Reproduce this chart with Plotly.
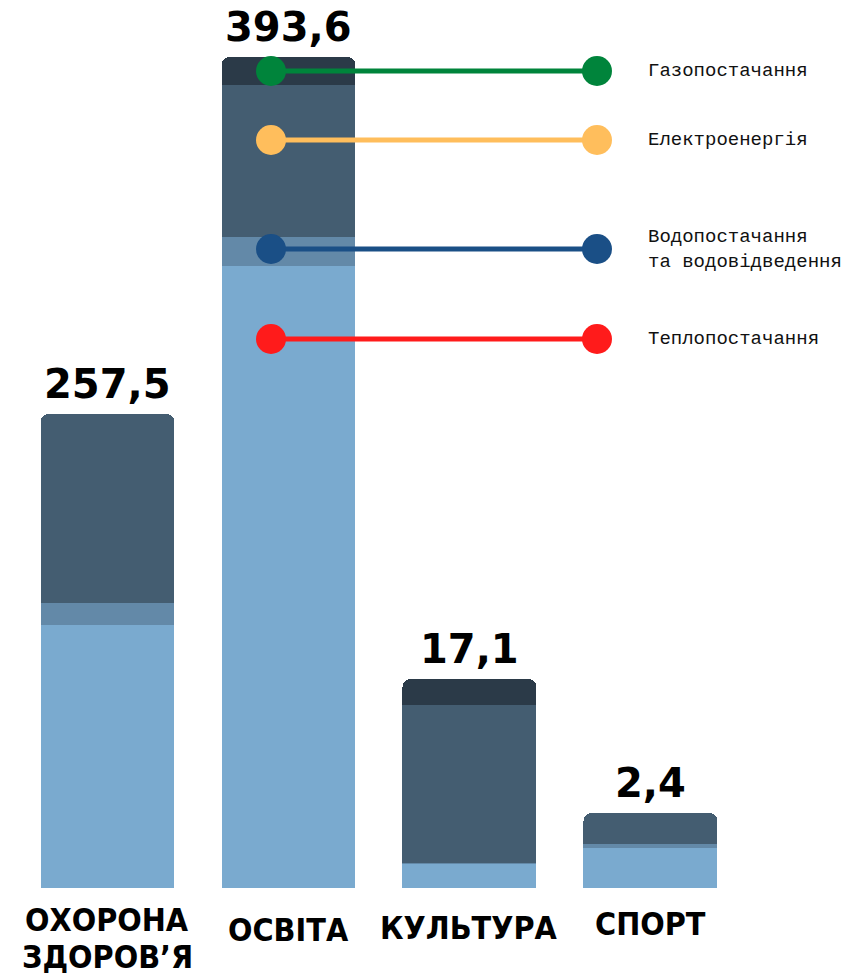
import plotly.graph_objects as go

# ---- data ----
categories = ["ОХОРОНА\nЗДОРОВ’Я", "ОСВІТА", "КУЛЬТУРА", "СПОРТ"]
totals_label = ["257,5", "393,6", "17,1", "2,4"]
# segment heights as drawn in the infographic (display units, not to scale with totals)
heat_h = [263, 622, 24, 40]      # Теплопостачання
water_h = [22, 29, 1, 4]         # Водопостачання та водовідведення
elec_h = [189, 152, 158, 31]     # Електроенергія
gas_h = [0, 28, 26, 0]           # Газопостачання

legend_names = ["Газопостачання", "Електроенергія", "Водопостачання<br>та водовідведення", "Теплопостачання"]
legend_colors = ["#00843B", "#FFBE5C", "#1A4F86", "#FF1B1B"]
legend_rows = [71, 140, 249, 339]   # layout rows (px from top)

seg_colors = ["#7AAACF", "#6389A8", "#445D71", "#2B3A48"]

fig = go.Figure()
for vals, col, name in zip([heat_h, water_h, elec_h, gas_h], seg_colors,
                           ["Теплопостачання", "Водопостачання", "Електроенергія", "Газопостачання"]):
    fig.add_trace(go.Bar(x=categories, y=vals, marker=dict(color=col, line=dict(width=0)),
                         name=name, showlegend=False, hoverinfo="skip"))

totals = [a + b + c + d for a, b, c, d in zip(heat_h, water_h, elec_h, gas_h)]

# legend decoration lines on an overlay pixel axis
for name, col, row in zip(legend_names, legend_colors, legend_rows):
    fig.add_trace(go.Scatter(x=[271, 597], y=[row, row], mode="lines+markers",
                             line=dict(color=col, width=5), marker=dict(color=col, size=30),
                             xaxis="x2", yaxis="y2", showlegend=False, hoverinfo="skip"))
    fig.add_annotation(x=646, y=row, xref="x2", yref="y2", text=name, showarrow=False,
                       xanchor="left", yanchor="middle", align="left",
                       font=dict(family="Liberation Mono, DejaVu Sans Mono, monospace", size=19, color="#111"))

# value labels
for cat, tot, lab in zip(categories, totals, totals_label):
    fig.add_annotation(x=cat, y=tot, xref="x", yref="y", text=lab, showarrow=False,
                       yanchor="middle", yshift=30,
                       font=dict(family="DejaVu Sans, Liberation Sans, sans-serif", size=40, color="#000", weight="bold"))

# category labels
cat_shift = [-32, -42, -40, -36]
for cat, sh in zip(categories, cat_shift):
    lines = cat.split("\n")
    for i, ln in enumerate(lines):
        fig.add_annotation(x=cat, y=0, xref="x", yref="y", text=ln, showarrow=False,
                           yanchor="middle", yshift=sh - 37 * i,
                           font=dict(family="DejaVu Sans Condensed, Liberation Sans Narrow, sans-serif",
                                     size=32, color="#000", weight="bold"))

fig.update_layout(
    width=864, height=975,
    margin=dict(l=17, r=0, t=0, b=87),
    barmode="stack", bargap=0.26, barcornerradius=8,
    paper_bgcolor="white", plot_bgcolor="rgba(0,0,0,0)",
    xaxis=dict(range=[-0.5, 4.18], visible=False, fixedrange=True),
    yaxis=dict(range=[0, 888], visible=False, fixedrange=True),
    xaxis2=dict(overlaying="x", range=[17, 864], visible=False),
    yaxis2=dict(overlaying="y", range=[888, 0], visible=False),
)

fig.write_html("out.html", config={"displayModeBar": False},
               post_script="document.body.style.margin='0';")
